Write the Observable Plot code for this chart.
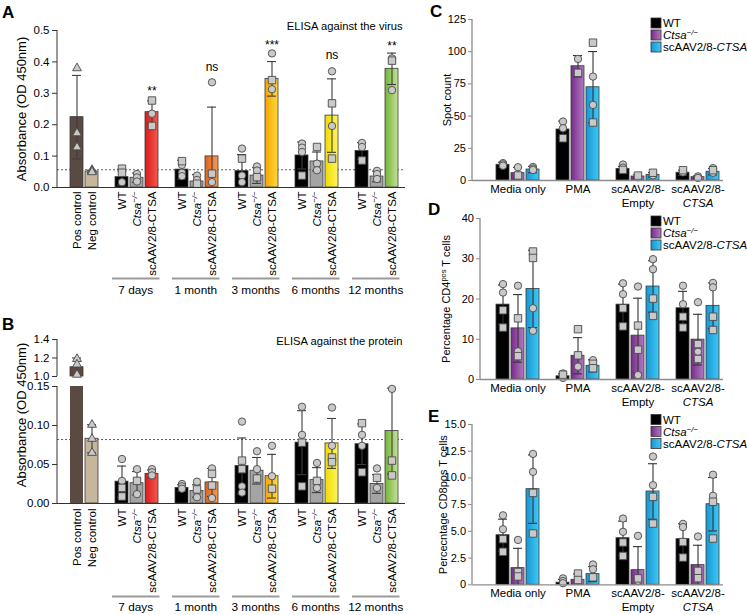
<!DOCTYPE html>
<html>
<head>
<meta charset="utf-8">
<script src="https://cdn.jsdelivr.net/npm/d3@7"></script>
<script src="https://cdn.jsdelivr.net/npm/@observablehq/plot@0.6"></script>
<style>
html, body { margin: 0; padding: 0; background: #fff; }
#fig { position: relative; width: 747px; height: 615px; overflow: hidden; background: #fff; }
#fig > svg { position: absolute; }
</style>
</head>
<body>
<svg width="0" height="0" style="position:absolute">
  <defs>
    <linearGradient id="gRed" x1="0" x2="1" y1="0" y2="0"><stop offset="0" stop-color="#d61c1c"/><stop offset="1" stop-color="#f7584c"/></linearGradient>
    <linearGradient id="gOrange" x1="0" x2="1" y1="0" y2="0"><stop offset="0" stop-color="#e0621a"/><stop offset="1" stop-color="#f59a52"/></linearGradient>
    <linearGradient id="gAmber" x1="0" x2="1" y1="0" y2="0"><stop offset="0" stop-color="#f5a400"/><stop offset="1" stop-color="#ffd93a"/></linearGradient>
    <linearGradient id="gYellow" x1="0" x2="1" y1="0" y2="0"><stop offset="0" stop-color="#efda00"/><stop offset="1" stop-color="#fff45e"/></linearGradient>
    <linearGradient id="gGreen" x1="0" x2="1" y1="0" y2="0"><stop offset="0" stop-color="#74b336"/><stop offset="1" stop-color="#c4e295"/></linearGradient>
    <linearGradient id="gPurple" x1="0" x2="1" y1="0" y2="0"><stop offset="0" stop-color="#772a8a"/><stop offset="1" stop-color="#b07bc0"/></linearGradient>
    <linearGradient id="gBlue" x1="0" x2="1" y1="0" y2="0"><stop offset="0" stop-color="#1597d4"/><stop offset="1" stop-color="#42c8f4"/></linearGradient>
  </defs>
</svg>
<div id="fig"></div>
<script>
// ================= DATA =================
const abGroups = ["7 days", "1 month", "3 months", "6 months", "12 months"];
const abControls = ["Pos control", "Neg control"];
const genotypes = ["WT", "Ctsa", "scAAV"];
const abGenotypeLabels = ["WT", "_Ctsa_%−/−%", "scAAV2/8-CTSA"];
const controlFills = ["#5b4a41", "#c6b79c"];
const abGroupFills = ["url(#gRed)", "url(#gOrange)", "url(#gAmber)", "url(#gYellow)", "url(#gGreen)"];
const wtFill = "#000000";
const koFillAB = "#a4a4a4";

// Panel A: ELISA against the virus (order: Pos, Neg, then per group WT, Ctsa, scAAV)
const aMean = [0.224, 0.051, 0.033, 0.031, 0.240, 0.057, 0.019, 0.099, 0.052, 0.038, 0.346, 0.102, 0.083, 0.229, 0.116, 0.035, 0.378];
const aSD   = [0.133, 0.004, 0.025, 0.015, 0.036, 0.030, 0.022, 0.157, 0.053, 0.025, 0.055, 0.043, 0.030, 0.117, 0.027, 0.017, 0.050];
const aPts = [
  [0.380, 0.173, 0.128], [0.056, 0.052, 0.049],
  [0.060, 0.047, 0.017], [0.043, 0.032, 0.019], [0.277, 0.235, 0.196],
  [0.084, 0.072, 0.047, 0.036], [0.038, 0.024, 0.012], [0.335, 0.044, 0.017],
  [0.124, 0.092, 0.038, 0.017], [0.067, 0.054, 0.033], [0.427, 0.342, 0.313],
  [0.140, 0.127, 0.113, 0.038], [0.129, 0.076, 0.055], [0.370, 0.268, 0.196, 0.092],
  [0.142, 0.129, 0.086], [0.053, 0.043, 0.027], [0.411, 0.404, 0.310]
];
const aSym = ["ttt", "ttt", "ssc", "ccc", "scs", "sccc", "ccs", "csc", "cscc", "ccs", "csc", "cccs", "scc", "cscs", "ccs", "ccc", "csc"];
const aCutoff = 0.0565;
const aTicks = [0, 0.1, 0.2, 0.3, 0.4, 0.5];
const aSigGroups = ["7 days", "1 month", "3 months", "6 months", "12 months"];
const aSigText = ["**", "ns", "***", "ns", "**"];
const aSigY = [0.306, 0.382, 0.452, 0.422, 0.450];

// Panel B: ELISA against the protein
const bMean = [1.10, 0.083, 0.028, 0.026, 0.038, 0.020, 0.016, 0.027, 0.048, 0.042, 0.035, 0.078, 0.030, 0.077, 0.076, 0.025, 0.093];
const bSD   = [0.10, 0.018, 0.020, 0.015, 0.005, 0.004, 0.008, 0.018, 0.036, 0.017, 0.028, 0.041, 0.016, 0.032, 0.026, 0.012, 0.055];
const bPts = [
  [1.19, 1.13, 1.02], [0.101, 0.083, 0.065],
  [0.057, 0.029, 0.020, 0.009], [0.044, 0.029, 0.012], [0.044, 0.040, 0.036],
  [0.025, 0.022, 0.019], [0.028, 0.018, 0.008], [0.045, 0.038, 0.023, 0.007],
  [0.105, 0.055, 0.044, 0.022, 0.014], [0.067, 0.044, 0.032], [0.074, 0.035, 0.019],
  [0.124, 0.088, 0.078, 0.022], [0.052, 0.029, 0.020], [0.123, 0.074, 0.059, 0.053],
  [0.103, 0.088, 0.074, 0.040], [0.045, 0.033, 0.020], [0.147, 0.055, 0.036]
];
const bSym = ["ttt", "ttt", "ccss", "csc", "ccc", "ccc", "csc", "cssc", "csscc", "ccs", "ccs", "ccss", "csc", "ccss", "sccs", "csc", "css"];
const bCutoff = 0.082;
const bTicksLow = [0, 0.05, 0.10, 0.15];
const bTicksHigh = [1.0, 1.2, 1.4];

// Panels C–E
const cdeGroups = ["Media only", "PMA", "scAAV2/8-Empty", "scAAV2/8-CTSA"];
const cdeGroupLabels = ["Media only", "PMA", "scAAV2/8-\nEmpty", "scAAV2/8-\n_CTSA_"];
const cdeFillsByGenotype = ["#000000", "url(#gPurple)", "url(#gBlue)"];
const legendLabels = ["WT", "_Ctsa_%−/−%", "scAAV2/8-_CTSA_"];

const cMean = [12.2, 5.7, 8.5, 39.6, 88.7, 72.4, 9.0, 3.1, 4.4, 6.0, 2.6, 6.8];
const cSD   = [2.0, 4.5, 2.5, 6.5, 8.3, 27.7, 2.0, 1.4, 1.8, 2.0, 1.0, 2.5];
const cPts = [
  [13.5, 12.5, 11.5], [10.3, 3.9], [10.5, 9.3, 8.2],
  [45.8, 40.6, 32.8], [94.4, 83.6], [107, 80.7, 58.7, 45.0],
  [12.4, 10.0, 8.2], [3.8, 2.5], [6.0, 4.8, 4.0],
  [8.0, 7.0, 6.3], [3.2, 2.0], [9.6, 8.0, 6.0]
];
const cSym = ["ccc", "cs", "ccc", "ccs", "cs", "sccs", "ccs", "sc", "scc", "scc", "cc", "csc"];
const cTicks = [0, 25, 50, 75, 100, 125];

const dMean = [18.6, 12.7, 22.5, 0.8, 5.9, 3.4, 18.6, 10.9, 23.1, 17.7, 9.9, 18.3];
const dSD   = [4.9, 8.4, 9.6, 0.6, 4.5, 1.5, 5.1, 9.3, 6.4, 4.2, 6.3, 5.7];
const dPts = [
  [23.7, 21.6, 17.2, 12.9], [23.3, 15.2, 7.0, 5.8], [31.8, 30.2, 17.7, 12.1],
  [1.5, 1.2, 0.8, 0.4], [12.5, 6.0, 3.2], [4.8, 3.9, 2.8],
  [23.9, 21.2, 17.7, 13.2], [23.1, 13.4, 7.4, 1.1], [29.9, 27.4, 20.1, 15.8],
  [23.3, 18.7, 15.6, 12.9], [19.2, 8.8, 6.9, 5.1], [24.0, 22.9, 15.6, 12.3]
];
const dSym = ["ccss", "cscs", "sscc", "cscc", "ssc", "css", "ccss", "cssc", "ccss", "ccss", "cscs", "ccss"];
const dTicks = [0, 10, 20, 30, 40];

const eMean = [4.64, 1.56, 8.95, 0.2, 0.47, 1.0, 4.36, 1.37, 8.73, 4.27, 1.84, 7.54];
const eSD   = [1.5, 1.85, 3.2, 0.3, 0.55, 0.7, 1.6, 2.2, 2.6, 1.45, 1.86, 2.5];
const ePts = [
  [6.5, 5.2, 4.27, 3.09], [4.2, 1.2, 0.78], [12.25, 10.57, 8.6, 4.8],
  [0.6, 0.35, 0.15], [1.05, 0.45], [1.9, 1.45, 0.7],
  [6.2, 4.96, 3.96, 2.7], [4.58, 0.6, 0.37], [12.0, 9.32, 8.23, 5.73],
  [5.7, 5.4, 4.0, 2.55], [4.52, 1.3, 0.62], [10.3, 8.33, 7.77, 4.33]
];
const eSym = ["ccss", "css", "ccss", "ccc", "ss", "ccs", "ccss", "csc", "ccss", "ccss", "css", "ccss"];
const eTicks = [0, 2.5, 5, 7.5, 10, 12.5, 15];

// ================= HELPERS =================
const FONT = "'Liberation Sans', Arial, Helvetica, sans-serif";
const SVGNS = "http://www.w3.org/2000/svg";
const SYM = {c: "circle", s: "square", t: "triangle"};
const fig = document.getElementById("fig");

const abKeys = [...abControls, ...abGroups.flatMap(g => genotypes.map(t => g + "|" + t))];
const abDomain = [...abControls, ...abGroups.flatMap(g => ["gap|" + g, ...genotypes.map(t => g + "|" + t)])];
const abFills = [...controlFills, ...abGroups.flatMap((g, i) => [wtFill, koFillAB, abGroupFills[i]])];
const abTick = k => abControls.includes(k) ? k : abGenotypeLabels[genotypes.indexOf(k.split("|")[1])];

const cdeKeys = cdeGroups.flatMap(g => genotypes.map(t => g + "|" + t));
const cdeDomain = cdeGroups.flatMap((g, i) => [...(i ? ["gap|" + g] : []), ...genotypes.map(t => g + "|" + t)]);
const cdeFills = cdeGroups.flatMap(() => cdeFillsByGenotype);
const cdeLabelRows = cdeGroups.map((g, i) => ({key: g + "|Ctsa", label: cdeGroupLabels[i]}));

function rowsOf(keys, mean, sd, fill, floor = 0) {
  return keys.map((key, i) => ({key, mean: mean[i], sd: sd[i], fill: fill[i],
    hi: mean[i] + sd[i], lo: Math.max(floor, mean[i] - sd[i]), hasLow: mean[i] - sd[i] > floor}));
}
function ptsOf(keys, vals, syms) {
  const out = [];
  keys.forEach((k, i) => vals[i].forEach((v, j) => out.push({key: k, v, sym: SYM[syms[i][j]]})));
  return out;
}
function statMarks(rows, pts, ec, lowCap = true) {
  const marks = [
    Plot.ruleX(rows, {x: "key", y1: "lo", y2: "hi", stroke: ec, strokeWidth: 1.1}),
    Plot.tickY(rows, {x: "key", y: "hi", stroke: ec, strokeWidth: 1.1, insetLeft: 2, insetRight: 2})
  ];
  if (lowCap) marks.push(Plot.tickY(rows.filter(d => d.hasLow), {x: "key", y: "lo", stroke: ec, strokeWidth: 1.1, insetLeft: 2, insetRight: 2}));
  for (const [sym, r] of [["circle", 3.7], ["square", 4.2], ["triangle", 3.3]]) {
    const p = pts.filter(d => d.sym === sym);
    if (p.length) marks.push(Plot.dot(p, {x: "key", y: "v", symbol: sym, r, fill: "#c9c9c9", stroke: "#4a4a4a", strokeWidth: 0.9}));
  }
  return marks;
}
function leftLine(color, w) {
  return (index, scales, values, dims) => d3.create("svg:line")
    .attr("x1", dims.marginLeft).attr("x2", dims.marginLeft)
    .attr("y1", dims.marginTop).attr("y2", dims.height - dims.marginBottom)
    .attr("stroke", color).attr("stroke-width", w).node();
}
function groupBrackets(groups, dyLine, dyText) {
  return (index, scales) => {
    const x = scales.x, y = scales.y;
    const bw = x.bandwidth();
    const y0 = y(0);
    const g = d3.create("svg:g");
    groups.forEach(gr => {
      const xa = x(gr + "|WT") - 3, xb = x(gr + "|scAAV") + bw + 1.5;
      g.append("line").attr("x1", xa).attr("x2", xb).attr("y1", y0 + dyLine).attr("y2", y0 + dyLine)
        .attr("stroke", "#9a9a9a").attr("stroke-width", 2);
      g.append("text").attr("x", (xa + xb) / 2).attr("y", y0 + dyText).attr("text-anchor", "middle")
        .attr("dy", "0.35em").attr("font-size", 11.8).attr("fill", "#000").text(gr);
    });
    return g.node();
  };
}
// markup: _italic_, ^superscript^, %italic superscript%
function richify(root) {
  const leaves = [...root.querySelectorAll("text, tspan")].filter(el => el.childElementCount === 0 && /[_^%]/.test(el.textContent));
  for (const el of leaves) {
    const s = el.textContent;
    el.textContent = "";
    for (const m of s.match(/_[^_]*_|\^[^^]*\^|%[^%]*%|[^_^%]+/g)) {
      const t = document.createElementNS(SVGNS, "tspan");
      const c = m[0];
      if (c === "_") { t.setAttribute("font-style", "italic"); t.textContent = m.slice(1, -1); }
      else if (c === "^" || c === "%") {
        t.setAttribute("baseline-shift", "super"); t.setAttribute("font-size", "0.68em");
        if (c === "%") t.setAttribute("font-style", "italic");
        t.textContent = m.slice(1, -1);
      } else t.textContent = m;
      el.appendChild(t);
    }
  }
}
function place(svg, left, top) {
  svg.style.position = "absolute";
  svg.style.left = left + "px";
  svg.style.top = top + "px";
  fig.appendChild(svg);
  richify(svg);
}
const st = fs => `font-family: ${FONT}; font-size: ${fs}px; background: transparent; overflow: visible; color: #000;`;
const abX = {type: "band", domain: abDomain, range: [64.5, 403], paddingInner: 0.16, paddingOuter: 0, align: 0.5};
const yLabel = (label, dx, dy, fs) => Plot.text([label], {frameAnchor: "left", textAnchor: "middle", lineAnchor: "middle", rotate: -90, dx, dy, text: d => d, fontSize: fs});

// ================= PANEL A =================
{
  const rows = rowsOf(abKeys, aMean, aSD, abFills);
  const pts = ptsOf(abKeys, aPts, aSym);
  const sig = aSigGroups.map((g, i) => ({key: g + "|scAAV", y: aSigY[i], t: aSigText[i]}));
  const svg = Plot.plot({
    width: 410, height: 300, marginTop: 30, marginBottom: 113, marginLeft: 57, marginRight: 5,
    style: st(11.5),
    x: abX,
    y: {domain: [0, 0.5]},
    marks: [
      Plot.ruleY([aCutoff], {stroke: "#333", strokeWidth: 0.8, strokeDasharray: "2,2"}),
      Plot.barY(rows, {x: "key", y: "mean", fill: "fill", stroke: "#3a3a3a", strokeWidth: 0.8}),
      ...statMarks(rows, pts, "#3d3d3d"),
      Plot.text(sig, {x: "key", y: "y", text: "t", fontSize: 12}),
      Plot.ruleY([0], {stroke: "#333", strokeWidth: 1}),
      leftLine("#333", 1),
      Plot.axisY({ticks: aTicks, tickFormat: d => d.toFixed(1), tickSize: 5, tickPadding: 3, stroke: "#333", label: null}),
      Plot.axisX({ticks: abKeys, tickFormat: abTick, tickRotate: -90, tickSize: 0, tickPadding: 4, label: null}),
      groupBrackets(abGroups, 91.5, 103),
      yLabel("Absorbance (OD 450nm)", -36, 0, 13),
      Plot.text(["ELISA against the virus"], {frameAnchor: "top-right", textAnchor: "end", dx: -3, dy: -8, text: d => d, fontSize: 11.2})
    ]
  });
  place(svg, 0, 0);
}

// ================= PANEL B (broken axis: top + bottom) =================
{
  const rows = rowsOf(abKeys, bMean, bSD, abFills);
  const pts = ptsOf(abKeys, bPts, bSym);
  const topDom = [bTicksHigh[0], bTicksHigh[bTicksHigh.length - 1]];
  const lowDom = [bTicksLow[0], bTicksLow[bTicksLow.length - 1]];
  const topRows = rowsOf(abKeys, bMean, bSD, abFills, topDom[0]).filter(d => d.mean > lowDom[1]).map(d => ({...d, base: topDom[0]}));
  const topPts = pts.filter(d => d.v > lowDom[1]);
  const svgTop = Plot.plot({
    width: 410, height: 50, marginTop: 9, marginBottom: 4, marginLeft: 57, marginRight: 5,
    style: st(11.5),
    x: {...abX, axis: null},
    y: {domain: topDom},
    marks: [
      Plot.barY(topRows, {x: "key", y1: "base", y2: "mean", fill: "fill", stroke: "#3a3a3a", strokeWidth: 0.8}),
      ...statMarks(topRows, topPts, "#3d3d3d", false),
      leftLine("#333", 1),
      Plot.axisY({ticks: bTicksHigh, tickFormat: d => d.toFixed(1), tickSize: 5, tickPadding: 3, stroke: "#333", label: null}),
      Plot.text(["ELISA against the protein"], {frameAnchor: "top-right", textAnchor: "end", dx: -3, dy: -2, text: d => d, fontSize: 11.2})
    ]
  });
  const lowRows = rows.filter(d => d.mean <= lowDom[1]);
  const lowPts = pts.filter(d => d.v <= lowDom[1]);
  const brokenRows = rows.filter(d => d.mean > lowDom[1]);
  const svgLow = Plot.plot({
    width: 410, height: 235, marginTop: 6, marginBottom: 112, marginLeft: 57, marginRight: 5,
    style: st(11.5),
    x: abX,
    y: {domain: lowDom},
    marks: [
      Plot.ruleY([bCutoff], {stroke: "#333", strokeWidth: 0.8, strokeDasharray: "2,2"}),
      Plot.barY(brokenRows, {x: "key", y: d => Math.min(d.mean, lowDom[1]), fill: "fill"}),
      Plot.barY(lowRows, {x: "key", y: "mean", fill: "fill", stroke: "#3a3a3a", strokeWidth: 0.8}),
      ...statMarks(lowRows, lowPts, "#3d3d3d"),
      Plot.ruleY([0], {stroke: "#333", strokeWidth: 1}),
      leftLine("#333", 1),
      Plot.axisY({ticks: bTicksLow, tickFormat: d => d.toFixed(2), tickSize: 5, tickPadding: 3, stroke: "#333", label: null}),
      Plot.axisX({ticks: abKeys, tickFormat: abTick, tickRotate: -90, tickSize: 0, tickPadding: 5, label: null}),
      groupBrackets(abGroups, 93.5, 104),
      yLabel("Absorbance (OD 450nm)", -36, -30, 13)
    ]
  });
  place(svgTop, 0, 330);
  place(svgLow, 0, 380);
}

// ================= PANELS C, D, E =================
function cdePanel(mean, sd, ptsV, sym, cfg) {
  const rows = rowsOf(cdeKeys, mean, sd, cdeFills);
  const pts = ptsOf(cdeKeys, ptsV, sym);
  return Plot.plot({
    width: 367, height: 215, marginTop: cfg.mt, marginBottom: cfg.mb, marginLeft: cfg.ml, marginRight: 24,
    style: st(11),
    x: {type: "band", domain: cdeDomain, range: [112.5, 341.9], paddingInner: 0.16, paddingOuter: 0, align: 0.5, axis: null},
    y: {domain: [cfg.ticks[0], cfg.ticks[cfg.ticks.length - 1]]},
    marks: [
      Plot.barY(rows, {x: "key", y: "mean", fill: "fill", stroke: "#3a3a3a", strokeWidth: 0.8}),
      ...statMarks(rows, pts, "#333"),
      Plot.ruleY([0], {stroke: "#8c8c8c", strokeWidth: 1.3}),
      leftLine("#8c8c8c", 1.3),
      Plot.axisY({ticks: cfg.ticks, tickFormat: cfg.fmt, tickSize: 4, tickPadding: 2.5, stroke: "#8c8c8c", label: null}),
      Plot.text(cdeLabelRows, {x: "key", y: () => 0, text: "label", lineAnchor: "top", dy: 3, lineHeight: 1.18, fontSize: 11.5}),
      yLabel(cfg.label, cfg.dx, 0, 11)
    ]
  });
}
place(cdePanel(cMean, cSD, cPts, cSym, {mt: 19, mb: 35, ml: 92, ticks: cTicks, fmt: d => String(d), label: "Spot count", dx: -25}), 380, 0);
place(cdePanel(dMean, dSD, dPts, dSym, {mt: 18, mb: 36, ml: 100, ticks: dTicks, fmt: d => String(d), label: "Percentage CD4^pos^ T cells", dx: -34}), 380, 200);
place(cdePanel(eMean, eSD, ePts, eSym, {mt: 24, mb: 30.7, ml: 92, ticks: eTicks, fmt: d => d === 0 ? "0" : d.toFixed(1), label: "Percecntage CD8pos T cells", dx: -29}), 380, 400);

// ================= OVERLAY: panel letters + legends =================
{
  const ov = d3.create("svg").attr("width", 747).attr("height", 615)
    .style("left", "0px").style("top", "0px").style("font-family", FONT).style("pointer-events", "none");
  const letters = [["A", 2, 18], ["B", 2, 330], ["C", 430, 17], ["D", 428, 215], ["E", 428, 421.5]];
  for (const [t, x, y] of letters)
    ov.append("text").attr("x", x).attr("y", y).attr("font-size", 17).attr("font-weight", "bold").text(t);
  const legendTops = [23, 221, 419.5];
  for (const y0 of legendTops) {
    legendLabels.forEach((lab, i) => {
      const cy = y0 + i * 12;
      ov.append("rect").attr("x", 651).attr("y", cy - 5).attr("width", 10).attr("height", 10)
        .attr("fill", cdeFillsByGenotype[i]).attr("stroke", "#333").attr("stroke-width", 0.8);
      ov.append("text").attr("x", 663).attr("y", cy).attr("dy", "0.36em").attr("font-size", 11.5).text(lab);
    });
  }
  const node = ov.node();
  fig.appendChild(node);
  richify(node);
}
</script>
</body>
</html>
